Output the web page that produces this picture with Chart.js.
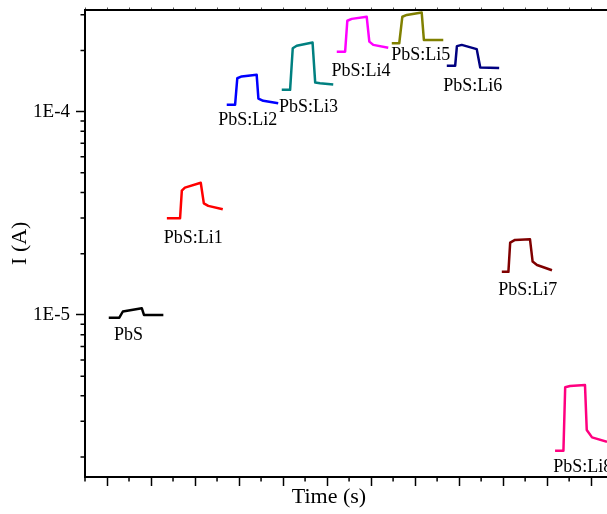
<!DOCTYPE html>
<html>
<head>
<meta charset="utf-8">
<script src="https://cdn.jsdelivr.net/npm/chart.js@4.4.1/dist/chart.umd.min.js"></script>
<style>
  html, body { margin: 0; padding: 0; background: #fff; overflow: hidden; }
  #wrap { width: 607px; height: 514px; }
</style>
</head>
<body>
<div id="wrap"><canvas id="ivChart" width="607" height="514"></canvas></div>
<script>
// Photo-response curves (time in s, current in A)
const pbsTime = [104, 128, 136, 179, 184, 228];
const pbsCurrent = [9.7e-6, 9.7e-6, 1.04e-5, 1.08e-5, 1.0e-5, 1.0e-5];

const li1Time = [236, 266, 270, 277, 313, 320, 330, 363];
const li1Current = [2.99e-5, 2.99e-5, 4.09e-5, 4.23e-5, 4.47e-5, 3.54e-5, 3.44e-5, 3.31e-5];

const li2Time = [372, 391, 396, 406, 440, 444, 455, 489];
const li2Current = [1.08e-4, 1.08e-4, 1.46e-4, 1.49e-4, 1.52e-4, 1.16e-4, 1.13e-4, 1.10e-4];

const li3Time = [497, 516, 522, 531, 567, 573, 584, 614];
const li3Current = [1.28e-4, 1.28e-4, 2.05e-4, 2.11e-4, 2.19e-4, 1.39e-4, 1.38e-4, 1.36e-4];

const li4Time = [622, 641, 646, 656, 690, 696, 705, 739];
const li4Current = [1.97e-4, 1.97e-4, 2.80e-4, 2.86e-4, 2.93e-4, 2.21e-4, 2.13e-4, 2.06e-4];

const li5Time = [747, 764, 771, 781, 815, 820, 864];
const li5Current = [2.17e-4, 2.17e-4, 2.93e-4, 2.99e-4, 3.07e-4, 2.25e-4, 2.25e-4];

const li6Time = [872, 891, 895, 906, 940, 948, 991];
const li6Current = [1.68e-4, 1.68e-4, 2.10e-4, 2.13e-4, 2.03e-4, 1.65e-4, 1.64e-4];

const li7Time = [997, 1012, 1016, 1027, 1061, 1067, 1077, 1111];
const li7Current = [1.63e-5, 1.63e-5, 2.27e-5, 2.34e-5, 2.36e-5, 1.83e-5, 1.76e-5, 1.66e-5];

const li8Time = [1118, 1137, 1141, 1152, 1186, 1190, 1202, 1236];
const li8Current = [2.15e-6, 2.15e-6, 4.41e-6, 4.47e-6, 4.52e-6, 2.72e-6, 2.50e-6, 2.38e-6];

const seriesNames = ['PbS', 'PbS:Li1', 'PbS:Li2', 'PbS:Li3', 'PbS:Li4', 'PbS:Li5', 'PbS:Li6', 'PbS:Li7', 'PbS:Li8'];
const seriesColors = ['#000000', '#ff0000', '#0000ff', '#008080', '#ff00ff', '#808000', '#000080', '#800000', '#ff0080'];

// where each sample name sits (label baseline, centre)
const labelTime = [149, 296, 420, 558, 677, 813, 931, 1056, 1181];
const labelCurrent = [7.53e-6, 2.27e-5, 8.6e-5, 1.0e-4, 1.5e-4, 1.8e-4, 1.27e-4, 1.254e-5, 1.695e-6];

// axes
const xMajorTicks = [100, 200, 300, 400, 500, 600, 700, 800, 900, 1000, 1100, 1200];
const xMinorTicks = [50, 150, 250, 350, 450, 550, 650, 750, 850, 950, 1050, 1150];
const yMajorTicks = [1e-5, 1e-4];
const yMinorTicks = [2e-6, 3e-6, 4e-6, 5e-6, 6e-6, 7e-6, 8e-6, 9e-6,
                     2e-5, 3e-5, 4e-5, 5e-5, 6e-5, 7e-5, 8e-5, 9e-5, 2e-4, 3e-4];
const yTickLabels = ['1E-5', '1E-4'];

const serif = "'Liberation Serif', 'Times New Roman', serif";

const allTimes = [pbsTime, li1Time, li2Time, li3Time, li4Time, li5Time, li6Time, li7Time, li8Time];
const allCurrents = [pbsCurrent, li1Current, li2Current, li3Current, li4Current, li5Current, li6Current, li7Current, li8Current];

const datasets = seriesNames.map((name, i) => ({
    label: name,
    data: allTimes[i].map((t, k) => ({ x: t, y: allCurrents[i][k] })),
    borderColor: seriesColors[i],
    backgroundColor: seriesColors[i],
    borderWidth: 2.5,
    pointRadius: 0,
    tension: 0,
    borderJoinStyle: 'round',
    borderCapStyle: 'butt'
}));

// minor ticks, sample names and the time title
const extrasPlugin = {
    id: 'extras',
    afterDraw(chart) {
        const { ctx, chartArea: a, scales: { x, y } } = chart;
        ctx.save();
        ctx.strokeStyle = '#000';
        ctx.lineWidth = 1.5;
        ctx.beginPath();
        yMinorTicks.forEach(v => {
            const py = y.getPixelForValue(v);
            ctx.moveTo(a.left - 4.5, py);
            ctx.lineTo(a.left, py);
        });
        xMinorTicks.forEach(v => {
            const px = x.getPixelForValue(v);
            ctx.moveTo(px, a.bottom);
            ctx.lineTo(px, a.bottom + 4.5);
        });
        ctx.stroke();

        ctx.fillStyle = '#000';
        ctx.font = '18px ' + serif;
        ctx.textAlign = 'center';
        ctx.textBaseline = 'alphabetic';
        seriesNames.forEach((name, i) => {
            ctx.fillText(name, x.getPixelForValue(labelTime[i]), y.getPixelForValue(labelCurrent[i]));
        });

        ctx.font = '22px ' + serif;
        ctx.fillText('Time (s)', 329, 503);
        ctx.restore();
    }
};

new Chart(document.getElementById('ivChart'), {
    type: 'line',
    data: { datasets },
    plugins: [extrasPlugin],
    options: {
        responsive: false,
        animation: false,
        devicePixelRatio: 1,
        layout: { padding: 0 },
        plugins: {
            legend: { display: false },
            tooltip: { enabled: false }
        },
        scales: {
            x: {
                type: 'linear',
                position: 'bottom',
                min: 50,
                max: 1236,
                afterBuildTicks: s => { s.ticks = xMajorTicks.map(v => ({ value: v })); },
                afterFit: s => { s.height = 37; s.paddingLeft = 0; s.paddingRight = 0; },
                ticks: { display: false },
                grid: { drawOnChartArea: false, tickLength: 9, tickWidth: 1.5, tickColor: '#000' },
                border: { display: true, color: '#000', width: 2 }
            },
            xTop: {
                type: 'linear',
                position: 'top',
                min: 50,
                max: 1236,
                afterBuildTicks: s => {
                    s.ticks = xMajorTicks.concat(xMinorTicks).sort((p, q) => p - q).map(v => ({ value: v }));
                },
                afterFit: s => { s.height = 9.5; s.paddingLeft = 0; s.paddingRight = 0; },
                ticks: { display: false },
                grid: { drawOnChartArea: false, tickLength: 2, tickWidth: 1, tickColor: '#555' },
                border: { display: true, color: '#000', width: 2 }
            },
            y: {
                type: 'logarithmic',
                position: 'left',
                min: 1.596e-6,
                max: 3.18e-4,
                afterBuildTicks: s => { s.ticks = yMajorTicks.map(v => ({ value: v })); },
                afterFit: s => { s.width = 85; s.paddingTop = 0; s.paddingBottom = 0; },
                ticks: {
                    padding: 6,
                    color: '#000',
                    font: { family: serif, size: 19 },
                    callback: (v, i) => yTickLabels[i]
                },
                grid: { drawOnChartArea: false, tickLength: 9, tickWidth: 1.5, tickColor: '#000' },
                border: { display: true, color: '#000', width: 2 },
                title: {
                    display: true,
                    text: 'I (A)',
                    color: '#000',
                    font: { family: serif, size: 22, lineHeight: 1.2 },
                    padding: { top: 7, bottom: 0 }
                }
            }
        }
    }
});
</script>
</body>
</html>
